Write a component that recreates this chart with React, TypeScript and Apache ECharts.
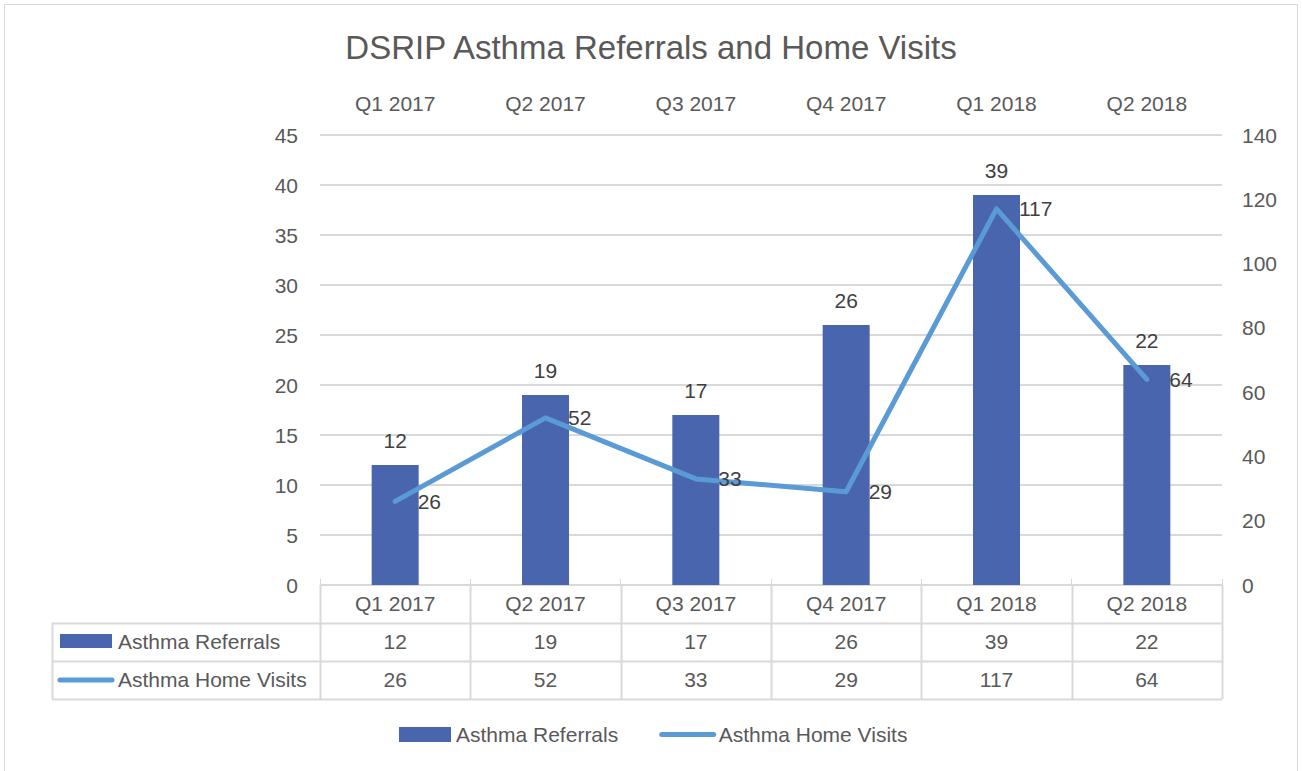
import React, { useEffect, useRef } from "react";
import * as echarts from "echarts";

const categories = ["Q1 2017", "Q2 2017", "Q3 2017", "Q4 2017", "Q1 2018", "Q2 2018"];
const referrals = [12, 19, 17, 26, 39, 22];
const homeVisits = [26, 52, 33, 29, 117, 64];
const seriesNames = ["Asthma Referrals", "Asthma Home Visits"];
const title = "DSRIP Asthma Referrals and Home Visits";

const FONT = "'Liberation Sans', Arial, sans-serif";
const FS = 21;
const BAR = "#4865ae";
const LINE = "#5b9bd5";
const GRID_C = "#d9d9d9";
const TXT = "#595959";
const LBL = "#404040";

const W = 1302;
const H = 771;
const G_LEFT = 320;
const G_RIGHT = 1222;
const G_TOP = 135;
const G_BOTTOM = 585;
const ROW_H = 38;
const TABLE_LEFT = 52;

export default function App() {
  const ref = useRef<HTMLDivElement>(null);
  useEffect(() => {
    if (!ref.current) return;
    const chart = echarts.init(ref.current, null, { renderer: "svg" });
    const colW = (G_RIGHT - G_LEFT) / categories.length;
    const rowsY = [G_BOTTOM, G_BOTTOM + ROW_H, G_BOTTOM + 2 * ROW_H, G_BOTTOM + 3 * ROW_H];
    const graphics: any[] = [];
    graphics.push({
      type: "rect",
      silent: true,
      shape: { x: 4.5, y: 4.5, width: W - 9, height: H + 40 },
      style: { fill: "none", stroke: GRID_C, lineWidth: 1 },
    });
    for (let r = 1; r < rowsY.length; r++) {
      graphics.push({
        type: "line",
        silent: true,
        shape: { x1: TABLE_LEFT, y1: rowsY[r] + 0.5, x2: G_RIGHT, y2: rowsY[r] + 0.5 },
        style: { stroke: GRID_C, lineWidth: 2 },
      });
    }
    for (let i = 0; i <= categories.length; i++) {
      const x = Math.round(G_LEFT + i * colW) + 0.5;
      graphics.push({
        type: "line",
        silent: true,
        shape: { x1: x, y1: rowsY[0], x2: x, y2: rowsY[3] },
        style: { stroke: GRID_C, lineWidth: 2 },
      });
    }
    graphics.push({
      type: "line",
      silent: true,
      shape: { x1: TABLE_LEFT + 0.5, y1: rowsY[1], x2: TABLE_LEFT + 0.5, y2: rowsY[3] },
      style: { stroke: GRID_C, lineWidth: 2 },
    });
    const rows: (string | number)[][] = [categories, referrals, homeVisits];
    rows.forEach((row, r) => {
      row.forEach((v, i) => {
        graphics.push({
          type: "text",
          silent: true,
          x: G_LEFT + (i + 0.5) * colW,
          y: rowsY[r] + ROW_H / 2 - 1,
          style: {
            text: String(v),
            fill: TXT,
            fontSize: FS,
            fontFamily: FONT,
            align: "center",
            verticalAlign: "middle",
          },
        });
      });
    });
    graphics.push({
      type: "rect",
      silent: true,
      shape: { x: 60, y: rowsY[1] + 11, width: 52, height: 14 },
      style: { fill: BAR },
    });
    graphics.push({
      type: "line",
      silent: true,
      shape: { x1: 60, y1: rowsY[2] + 19, x2: 112, y2: rowsY[2] + 19 },
      style: { stroke: LINE, lineWidth: 5, lineCap: "round" },
    });
    seriesNames.forEach((n, k) => {
      graphics.push({
        type: "text",
        silent: true,
        x: 118,
        y: rowsY[k + 1] + ROW_H / 2 - 1,
        style: {
          text: n,
          fill: TXT,
          fontSize: FS,
          fontFamily: FONT,
          align: "left",
          verticalAlign: "middle",
        },
      });
    });

    chart.setOption({
      animation: false,
      textStyle: { fontFamily: FONT },
      title: {
        text: title,
        left: "center",
        top: 26,
        textStyle: { fontSize: 33, fontWeight: "normal", color: TXT, fontFamily: FONT },
      },
      grid: {
        left: G_LEFT,
        right: W - G_RIGHT,
        top: G_TOP,
        bottom: H - G_BOTTOM,
        containLabel: false,
      },
      legend: {
        left: 399,
        top: 724,
        padding: 0,
        itemWidth: 52,
        itemHeight: 15,
        itemGap: 41,
        textStyle: { fontSize: FS, color: TXT, fontFamily: FONT },
        data: [
          { name: seriesNames[0], icon: "rect" },
          {
            name: seriesNames[1],
            itemStyle: { opacity: 0 },
            lineStyle: { width: 5, cap: "round", color: LINE },
          },
        ],
      },
      xAxis: [
        {
          type: "category",
          position: "top",
          data: categories,
          axisLine: { show: true, lineStyle: { color: GRID_C, width: 1 } },
          axisTick: { show: true, length: 6, lineStyle: { color: GRID_C } },
          axisLabel: { fontSize: FS, color: TXT, margin: 21, fontFamily: FONT },
          splitLine: { show: false },
        },
      ],
      yAxis: [
        {
          type: "value",
          min: 0,
          max: 45,
          interval: 5,
          axisLine: { show: false },
          axisTick: { show: false },
          axisLabel: { fontSize: FS, color: TXT, margin: 22, fontFamily: FONT },
          splitLine: { show: true, lineStyle: { color: GRID_C, width: 2 } },
        },
        {
          type: "value",
          min: 0,
          max: 140,
          interval: 20,
          axisLine: { show: false },
          axisTick: { show: false },
          axisLabel: { fontSize: FS, color: TXT, margin: 20, fontFamily: FONT },
          splitLine: { show: false },
        },
      ],
      series: [
        {
          name: seriesNames[0],
          type: "bar",
          data: referrals,
          barWidth: 47,
          itemStyle: { color: BAR },
          label: {
            show: true,
            position: "top",
            distance: 14,
            fontSize: FS,
            color: LBL,
            fontFamily: FONT,
          },
        },
        {
          name: seriesNames[1],
          type: "line",
          yAxisIndex: 1,
          data: homeVisits,
          symbol: "circle",
          symbolSize: 1,
          lineStyle: { color: LINE, width: 5, cap: "round", join: "round" },
          itemStyle: { color: LINE },
          label: {
            show: true,
            position: "right",
            distance: 22,
            fontSize: FS,
            color: LBL,
            fontFamily: FONT,
          },
        },
      ],
      graphic: graphics,
    });
    return () => chart.dispose();
  }, []);
  return (
    <div
      ref={ref}
      style={{ position: "absolute", left: 0, top: 0, width: W, height: H, background: "#fff" }}
    />
  );
}
